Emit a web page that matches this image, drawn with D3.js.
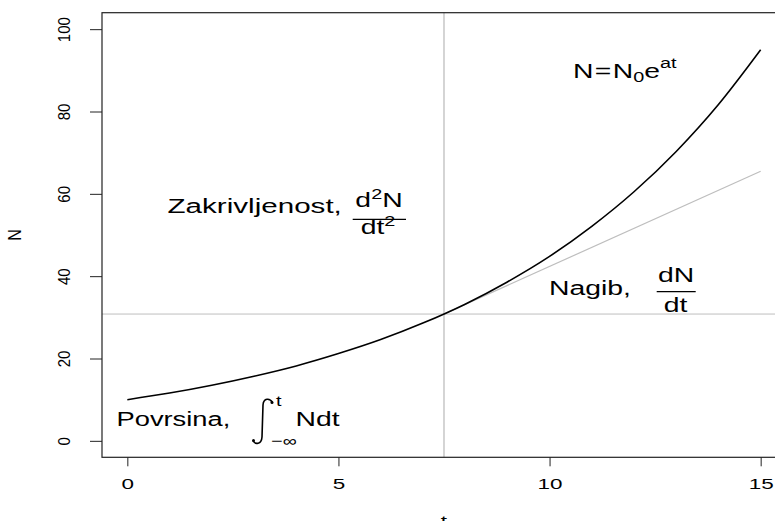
<!DOCTYPE html>
<html>
<head>
<meta charset="utf-8">
<script src="https://cdn.jsdelivr.net/npm/d3@7"></script>
<style>
  body { margin: 0; background: #fff; }
  svg { display: block; }
  text { font-family: "Liberation Sans", Arial, Helvetica, sans-serif; fill: #000; }
</style>
</head>
<body>
<div id="container"></div>
<script>
// values
var tVals = [0, 1, 2, 3, 4, 5, 6, 7, 8, 9, 10, 11, 12, 13, 14, 15];
var nVals = [10.0, 11.6, 13.5, 15.7, 18.2, 21.2, 24.6, 28.6, 33.2, 38.6, 44.8, 52.1, 60.5, 70.3, 81.7, 95.0];
var tangentT = [7.5, 15];
var tangentN = [30.8, 65.5];
var refT = 7.5;
var refN = 30.8;
var xTicks = [0, 5, 10, 15];
var yTicks = [0, 20, 40, 60, 80, 100];

var w = 775, h = 521;
var sx = 1.35; // the picture is stretched sideways

var svg = d3.select("#container").append("svg")
	.attr("width", w)
	.attr("height", h);

var x = d3.scaleLinear().domain([-0.6, 15.6]).range([102, 786]);
var y = d3.scaleLinear().domain([-4, 104]).range([457.3, 12.7]);

// grey reference lines
svg.append("line")
	.attr("x1", x(refT)).attr("x2", x(refT))
	.attr("y1", y.range()[0]).attr("y2", y.range()[1])
	.attr("stroke", "#bebebe").attr("stroke-width", 1.3);
svg.append("line")
	.attr("x1", x.range()[0]).attr("x2", x.range()[1])
	.attr("y1", y(refN)).attr("y2", y(refN))
	.attr("stroke", "#bebebe").attr("stroke-width", 1);

// tangent
svg.append("line")
	.attr("x1", x(tangentT[0])).attr("y1", y(tangentN[0]))
	.attr("x2", x(tangentT[1])).attr("y2", y(tangentN[1]))
	.attr("stroke", "#bebebe").attr("stroke-width", 1.2);

// the curve
var line = d3.line()
	.x(function(d, i){ return x(tVals[i]) })
	.y(function(d){ return y(d) })
	.curve(d3.curveMonotoneX);
svg.append("path")
	.datum(nVals)
	.attr("d", line)
	.attr("fill", "none")
	.attr("stroke", "#000")
	.attr("stroke-width", 1.6);

// box
svg.append("rect")
	.attr("x", x.range()[0]).attr("y", y.range()[1])
	.attr("width", x.range()[1] - x.range()[0])
	.attr("height", y.range()[0] - y.range()[1])
	.attr("fill", "none").attr("stroke", "#222").attr("stroke-width", 1.2);

// axes
var xAxis = svg.append("g")
	.attr("transform", "translate(0," + y.range()[0] + ")")
	.call(d3.axisBottom(x).tickValues(xTicks).tickSize(9).tickPadding(0));
xAxis.select(".domain").remove();
xAxis.selectAll("line").attr("stroke", "#222");
xAxis.selectAll("text")
	.attr("y", 32).attr("dy", 0)
	.attr("font-size", 15.5)
	.attr("font-family", null)
	.attr("transform", "scale(1.45,1)");

var yAxis = svg.append("g")
	.attr("transform", "translate(" + x.range()[0] + ",0)")
	.call(d3.axisLeft(y).tickValues(yTicks).tickSize(12));
yAxis.select(".domain").remove();
yAxis.selectAll("line").attr("stroke", "#222");
yAxis.selectAll("text")
	.attr("x", 0).attr("y", 0).attr("dy", 0)
	.attr("text-anchor", "middle")
	.attr("font-size", 15)
	.attr("font-family", null)
	.attr("transform", "translate(-32,0) scale(1.15,1) rotate(-90)");

// axis titles
svg.append("text")
	.attr("transform", "translate(" + x(refT) + ",526) scale(1.45,1)")
	.attr("text-anchor", "middle").attr("font-size", 15.5)
	.text("t");
svg.append("text")
	.attr("transform", "translate(21,235) scale(1.2,1) rotate(-90)")
	.attr("text-anchor", "middle").attr("font-size", 16)
	.text("N");

// helper for the stretched labels
function put(str, px, py, size, anchor, stretch) {
	return svg.append("text")
		.attr("transform", "translate(" + px + "," + py + ") scale(" + (stretch || sx) + ",1)")
		.attr("text-anchor", anchor || "start")
		.attr("font-size", size)
		.text(str);
}
function bar(x1, x2, py) {
	svg.append("line")
		.attr("x1", x1).attr("x2", x2).attr("y1", py).attr("y2", py)
		.attr("stroke", "#000").attr("stroke-width", 1.2);
}

var big = 21, small = 14.7;

// N = N0 e^at
var eq = put("", 573, 77.5, big);
eq.append("tspan").text("N");
eq.append("tspan").attr("dx", 1).text("=");
eq.append("tspan").attr("dx", 1).text("N");
eq.append("tspan").attr("dy", 4).attr("font-size", small).text("0");
eq.append("tspan").attr("dy", -4).text("e");
eq.append("tspan").attr("dy", -10).attr("font-size", small).text("at");

// Zakrivljenost, d2N/dt2
put("Zakrivljenost,", 167.5, 212.7, big, "start", 1.41);
var num = put("", 379, 207, big, "middle");
num.append("tspan").text("d");
num.append("tspan").attr("dy", -8).attr("font-size", small).text("2");
num.append("tspan").attr("dy", 8).text("N");
bar(352.7, 406, 219.3);
var den = put("", 378, 234, big, "middle");
den.append("tspan").text("dt");
den.append("tspan").attr("dy", -8).attr("font-size", small).text("2");

// Nagib, dN/dt
put("Nagib,", 549, 295, big);
put("dN", 676, 282, big, "middle");
bar(656.7, 695.7, 291.7);
put("dt", 675.5, 312, big, "middle");

// Povrsina, integral N dt
put("Povrsina,", 116.5, 426, big, "start", 1.3);
svg.append("path")
	.attr("d", "M272.5,402.5 C270,398 263.5,397.5 263,405 L262,437 C261.5,444.5 255,445 253,440.5")
	.attr("fill", "none").attr("stroke", "#000").attr("stroke-width", 1.6);
svg.append("circle").attr("cx", 272).attr("cy", 402.5).attr("r", 1.5);
svg.append("circle").attr("cx", 253.5).attr("cy", 440.5).attr("r", 1.5);
put("t", 276, 406, small);
put("\u2212\u221e", 271, 446, small);
put("Ndt", 295.5, 426, big);
</script>
</body>
</html>
